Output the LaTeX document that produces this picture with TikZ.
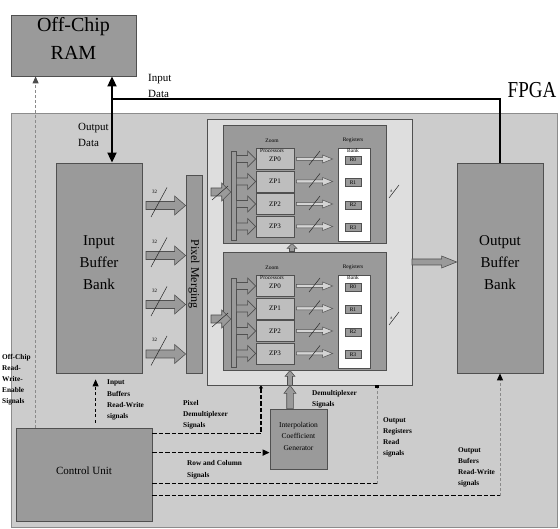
\documentclass[tikz,border=0pt]{standalone}
\usepackage{fontspec}
\setmainfont{Liberation Serif}
\usetikzlibrary{arrows.meta,fit,calc}
\definecolor{boxgray}{HTML}{9A9A9A}
\definecolor{regiongray}{HTML}{CCCCCC}
\definecolor{regionedge}{HTML}{8C8C8C}
\definecolor{panelgray}{HTML}{DEDEDE}
\definecolor{zpgray}{HTML}{BEBEBE}
\definecolor{edgegray}{HTML}{505050}
\definecolor{dashgray}{HTML}{8A8A8A}
\definecolor{arrowlight}{HTML}{D4D4D4}

% horizontal fat arrow: [opts]{start}{end}{shaft half}{head half}{head length}
\newcommand\fatarrowR[6][]{%
  \draw[fatarr,#1] let \p1=(#2), \p2=(#3) in
    (\x1,\y1+#4pt) -- (\x2-#6pt,\y1+#4pt) -- (\x2-#6pt,\y1+#5pt) -- (\x2,\y1)
    -- (\x2-#6pt,\y1-#5pt) -- (\x2-#6pt,\y1-#4pt) -- (\x1,\y1-#4pt) -- cycle;}
% upward fat arrow: [opts]{bottom}{top}{shaft half}{head half}{head length}
\newcommand\fatarrowU[6][]{%
  \draw[fatarr,#1] let \p1=(#2), \p2=(#3) in
    (\x1-#4pt,\y1) -- (\x1-#4pt,\y2-#6pt) -- (\x1-#5pt,\y2-#6pt) -- (\x1,\y2)
    -- (\x1+#5pt,\y2-#6pt) -- (\x1+#4pt,\y2-#6pt) -- (\x1+#4pt,\y1) -- cycle;}

\newcommand\procblock[2]{%
  \node[blk,fit={(223,#2) (386,#2+118)}] (blk#1) {};
  \node[bus,fit={(231,#2+26) (236,#2+115)}] (bus#1) {};
  \node[regbank,fit={(338,#2+23) (370,#2+116)}] (reg#1) {};
  \foreach \i/\yc in {0/34,1/56.5,2/79,3/101.5} {
    \node[zp] (zp#1\i) at (275,#2+\yc) {ZP\i};
    \node[rbox] (r#1\i) at (353,#2+\yc+1) {R\i};
    \fatarrowR{bus#1.east |- zp#1\i}{zp#1\i.west}{3.5}{8}{8}
    \fatarrowR[fill=arrowlight,line width=0.5pt]{[xshift=2pt]zp#1\i.east}{[xshift=-5pt]reg#1.west}{1.5}{4}{10}
    \draw[slash] (309,#2+\yc+6) -- (320,#2+\yc-8);
  }
  \coordinate (in#1) at (211,#2+67);
  \fatarrowR{in#1}{bus#1.west}{4}{9}{9}
  \draw[slash] (212,#2+75) -- (228,#2+61);
  \draw[slash] (389,#2+73) -- (399,#2+60);
  \node[inner sep=0pt,font=\fontsize{3.5}{4}\selectfont] (eight#1) at (391.5,#2+66) {8};
  \node[tiny] (zoom#1) at (272,#2+15.5) {Zoom};
  \node[tiny] (proc#1) at (272,#2+26) {Processors};
  \node[tiny] (regs#1) at (353,#2+15) {Registers};
  \node[tiny] (bank#1) at (353,#2+26) {Bank};
}

\begin{document}
\begin{tikzpicture}[x=1pt,y=-1pt,
  box/.style={draw=edgegray,fill=boxgray,line width=0.8pt,inner sep=0pt},
  blk/.style={draw=edgegray,fill=boxgray,line width=0.9pt,inner sep=0pt},
  bus/.style={draw=edgegray,fill=boxgray,line width=0.6pt,inner sep=0pt},
  regbank/.style={draw=edgegray,fill=white,line width=0.7pt,inner sep=0pt},
  zp/.style={draw=edgegray,fill=zpgray,line width=0.7pt,inner sep=0pt,minimum width=38pt,minimum height=21pt,font=\fontsize{7}{8}\selectfont},
  rbox/.style={draw=edgegray,fill=boxgray,line width=0.5pt,inner sep=0pt,minimum width=16pt,minimum height=8pt,font=\fontsize{5.5}{6}\selectfont},
  fatarr/.style={draw=edgegray,fill=boxgray,line width=0.6pt,line join=miter},
  slash/.style={draw=black!85,line width=0.5pt},
  tiny/.style={inner sep=0pt,font=\fontsize{5.5}{6}\selectfont},
  sigtext/.style={anchor=north west,inner sep=0pt,align=left,font=\fontsize{7.3}{11.3}\selectfont\bfseries},
  sig/.style={line width=1.6pt,dash pattern=on 4.5pt off 2pt},
  gsig/.style={draw=dashgray,line width=1pt,dash pattern=on 3pt off 2pt},
  tipbig/.style={-{Triangle[width=6pt,length=7pt,color=black,fill=black]}},
]
\useasboundingbox (0,0) rectangle (560,529);

% FPGA region
\node[draw=regionedge,fill=regiongray,line width=0.8pt,inner sep=0pt,fit={(11,113) (557,527)}] (fpga) {};
\node[inner sep=0pt,font=\fontsize{19}{20}\selectfont] (fpgalbl) at (532,90) {\scalebox{1}[1.2]{FPGA}};

% Off-chip RAM
\node[box,fit={(11,15) (136,76)},align=center,font=\fontsize{20}{27.5}\selectfont] (ram) {Off-Chip\\RAM};

% main blocks
\node[box,fit={(56,163) (142,373)},align=center,font=\fontsize{15}{22}\selectfont] (ibb) {Input\\Buffer\\Bank};
\node[box,fit={(186,175) (202,373)}] (pm) {};
\node[rotate=-90,inner sep=0pt,font=\fontsize{12}{13}\selectfont] (pmtext) at (pm.center) {Pixel Merging};
\node[draw=edgegray,fill=panelgray,line width=0.8pt,inner sep=0pt,fit={(207,119) (412,385)}] (panel) {};
\procblock{A}{125}
\procblock{B}{252}
\node[box,fit={(457,163) (543,373)},align=center,font=\fontsize{15}{22}\selectfont] (obb) {Output\\Buffer\\Bank};
\node[box,fit={(16,428) (152,521)},font=\fontsize{11}{12}\selectfont] (ctrl) {Control Unit};
\node[box,fit={(270,409) (327,469)},align=center,font=\fontsize{7.5}{11.5}\selectfont] (icg) {Interpolation\\Coefficient\\Generator};

% data bus and double arrow RAM <-> input buffer
\coordinate (dx) at (112,99);
\draw[line width=2pt] (dx) -| (obb.north);
\draw[line width=1.8pt,{Triangle[width=9pt,length=10pt]}-{Triangle[width=9pt,length=10pt]}] (dx |- ram.south) -- (dx |- ibb.north);
\node[anchor=north west,inner sep=0pt,align=left,font=\fontsize{11}{16.5}\selectfont] (indata) at (148,74) {Input\\Data};
\node[anchor=north west,inner sep=0pt,align=left,font=\fontsize{11}{16.5}\selectfont] (outdata) at (78,123) {Output\\Data};

% input buffer -> pixel merging
\foreach \yy [count=\k] in {205.5,255.5,304.5,354} {
  \coordinate (ia\k) at (146,\yy);
  \fatarrowR{ia\k}{pm.west}{4}{9.5}{11}
  \draw[slash] (151,\yy+11.5) -- (167,\yy-18);
  \node[inner sep=0pt,font=\fontsize{5}{5}\selectfont] (w\k) at (154.5,\yy-14) {32};
}

% panel -> output buffer
\coordinate (po) at (412,262);
\fatarrowR{po}{obb.west}{3}{6}{15}

% vertical arrows
\coordinate (ux) at (290,400);
\coordinate (bx) at (292,248);
\fatarrowU{ux |- icg.north}{ux |- panel.south}{3.3}{6}{8}
\fatarrowU{ux |- panel.south}{ux |- blkB.south}{2.5}{5}{6}
\fatarrowU{bx |- blkB.north}{bx |- blkA.south}{2.5}{5}{5}

% control signals
\coordinate (oc) at ([xshift=20pt]ctrl.north west);
\draw[gsig,-{Triangle[width=6pt,length=7pt,color=black!70,fill=black!70]}] (oc) -- (oc |- ram.south);
\coordinate (ib) at ([xshift=80pt,yshift=5pt]ctrl.north west);
\draw[line width=1pt,dash pattern=on 3pt off 2.5pt,tipbig,shorten >=6pt] (ib) -- (ib |- ibb.south);
\coordinate (pd) at ([yshift=-6pt]ctrl.north east);
\coordinate (pdx) at (261,420);
\draw[sig,-{Triangle[width=4pt,length=3pt]}] (pd) -| (pdx |- panel.south);
\coordinate (rc) at ([yshift=-25pt]ctrl.north east);
\draw[sig,tipbig] (rc) -- (rc -| icg.west);
\coordinate (orr) at ([yshift=-56pt]ctrl.north east);
\coordinate (orx) at (377,400);
\draw[sig] (orr) -- (orr -| orx);
\draw[gsig,-{Rectangle[width=4pt,length=3pt,color=black,fill=black]}] (orr -| orx) -- (orx |- panel.south);
\coordinate (ob) at ([yshift=-68pt]ctrl.north east);
\draw[sig] (ob) -- (ob -| obb.south);
\draw[gsig,tipbig] (ob -| obb.south) -- (obb.south);

% signal labels
\node[sigtext,font=\fontsize{7.3}{11}\selectfont\bfseries] (lofc) at (2,354) {Off-Chip\\Read-\\Write-\\Enable\\Signals};
\node[sigtext] (libr) at (107,380) {Input\\Buffers\\Read-Write\\signals};
\node[sigtext] (lpd) at (183,400) {Pixel\\Demultiplexer\\Signals};
\node[sigtext,font=\fontsize{7.3}{12}\selectfont\bfseries] (lrc) at (187,460) {Row and Column\\Signals};
\node[sigtext,font=\fontsize{7.3}{11}\selectfont\bfseries] (ldm) at (312,390) {Demultiplexer\\Signals};
\node[sigtext,font=\fontsize{7.3}{11}\selectfont\bfseries] (lor) at (383,417) {Output\\Registers\\Read\\signals};
\node[sigtext] (lob) at (458,447) {Output\\Bufers\\Read-Write\\signals};
\end{tikzpicture}
\end{document}
